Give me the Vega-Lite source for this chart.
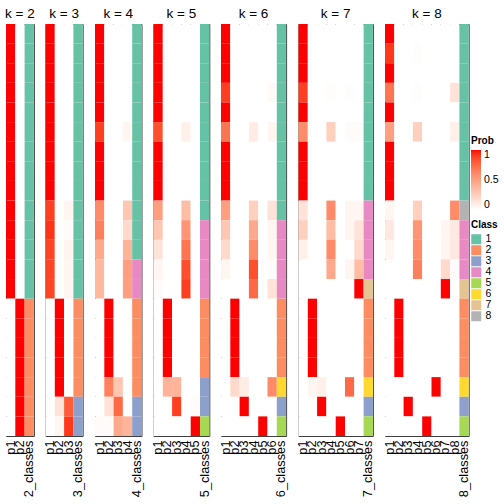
{
"$schema": "https://vega.github.io/schema/vega-lite/v6.json",
"padding": {"left": 3, "top": 6, "right": 7, "bottom": 0},
"background": "white",
"bounds": "flush",
"spacing": 11.5,
"config": {"font": "Liberation Sans", "view": {"stroke": "#404040", "strokeWidth": 1}, "title": {"fontSize": 13.5, "fontWeight": "normal", "color": "black", "offset": 4, "anchor": "middle", "font": "Liberation Sans"},
  "axisX": {"title": null, "labelAngle": 270, "domain": false, "ticks": false, "labelPadding": 4, "labelFontSize": 12.75, "labelColor": "black", "labelFont": "Liberation Sans"}},
"datasets": {"d": [
{"k":2,"s":0,"c":"2_classes","cl":"1","p1":1,"p2":0},
{"k":2,"s":1,"c":"2_classes","cl":"1","p1":1,"p2":0},
{"k":2,"s":2,"c":"2_classes","cl":"1","p1":1,"p2":0},
{"k":2,"s":3,"c":"2_classes","cl":"1","p1":1,"p2":0},
{"k":2,"s":4,"c":"2_classes","cl":"1","p1":1,"p2":0},
{"k":2,"s":5,"c":"2_classes","cl":"1","p1":1,"p2":0},
{"k":2,"s":6,"c":"2_classes","cl":"1","p1":1,"p2":0},
{"k":2,"s":7,"c":"2_classes","cl":"1","p1":1,"p2":0},
{"k":2,"s":8,"c":"2_classes","cl":"1","p1":1,"p2":0},
{"k":2,"s":9,"c":"2_classes","cl":"1","p1":1,"p2":0},
{"k":2,"s":10,"c":"2_classes","cl":"1","p1":1,"p2":0},
{"k":2,"s":11,"c":"2_classes","cl":"1","p1":1,"p2":0},
{"k":2,"s":12,"c":"2_classes","cl":"1","p1":1,"p2":0},
{"k":2,"s":13,"c":"2_classes","cl":"1","p1":1,"p2":0},
{"k":2,"s":14,"c":"2_classes","cl":"2","p1":0,"p2":1},
{"k":2,"s":15,"c":"2_classes","cl":"2","p1":0,"p2":1},
{"k":2,"s":16,"c":"2_classes","cl":"2","p1":0,"p2":1},
{"k":2,"s":17,"c":"2_classes","cl":"2","p1":0,"p2":1},
{"k":2,"s":18,"c":"2_classes","cl":"2","p1":0,"p2":1},
{"k":2,"s":19,"c":"2_classes","cl":"2","p1":0,"p2":1},
{"k":2,"s":20,"c":"2_classes","cl":"2","p1":0,"p2":1},

{"k":3,"s":0,"c":"3_classes","cl":"1","p1":1,"p2":0,"p3":0},
{"k":3,"s":1,"c":"3_classes","cl":"1","p1":1,"p2":0,"p3":0},
{"k":3,"s":2,"c":"3_classes","cl":"1","p1":1,"p2":0,"p3":0},
{"k":3,"s":3,"c":"3_classes","cl":"1","p1":1,"p2":0,"p3":0},
{"k":3,"s":4,"c":"3_classes","cl":"1","p1":1,"p2":0,"p3":0},
{"k":3,"s":5,"c":"3_classes","cl":"1","p1":1,"p2":0,"p3":0},
{"k":3,"s":6,"c":"3_classes","cl":"1","p1":1,"p2":0,"p3":0},
{"k":3,"s":7,"c":"3_classes","cl":"1","p1":1,"p2":0,"p3":0},
{"k":3,"s":8,"c":"3_classes","cl":"1","p1":1,"p2":0,"p3":0},
{"k":3,"s":9,"c":"3_classes","cl":"1","p1":0.9,"p2":0,"p3":0.05},
{"k":3,"s":10,"c":"3_classes","cl":"1","p1":0.93,"p2":0,"p3":0.02},
{"k":3,"s":11,"c":"3_classes","cl":"1","p1":0.88,"p2":0,"p3":0.06},
{"k":3,"s":12,"c":"3_classes","cl":"1","p1":0.88,"p2":0,"p3":0.05},
{"k":3,"s":13,"c":"3_classes","cl":"1","p1":0.88,"p2":0,"p3":0.05},
{"k":3,"s":14,"c":"3_classes","cl":"2","p1":0,"p2":1,"p3":0},
{"k":3,"s":15,"c":"3_classes","cl":"2","p1":0,"p2":1,"p3":0},
{"k":3,"s":16,"c":"3_classes","cl":"2","p1":0,"p2":1,"p3":0},
{"k":3,"s":17,"c":"3_classes","cl":"2","p1":0,"p2":1,"p3":0},
{"k":3,"s":18,"c":"3_classes","cl":"2","p1":0,"p2":1,"p3":0},
{"k":3,"s":19,"c":"3_classes","cl":"3","p1":0,"p2":0.15,"p3":0.8},
{"k":3,"s":20,"c":"3_classes","cl":"3","p1":0,"p2":0.05,"p3":0.92},

{"k":4,"s":0,"c":"4_classes","cl":"1","p1":1,"p2":0,"p3":0,"p4":0},
{"k":4,"s":1,"c":"4_classes","cl":"1","p1":1,"p2":0,"p3":0,"p4":0},
{"k":4,"s":2,"c":"4_classes","cl":"1","p1":1,"p2":0,"p3":0,"p4":0},
{"k":4,"s":3,"c":"4_classes","cl":"1","p1":1,"p2":0,"p3":0,"p4":0},
{"k":4,"s":4,"c":"4_classes","cl":"1","p1":1,"p2":0,"p3":0,"p4":0},
{"k":4,"s":5,"c":"4_classes","cl":"1","p1":0.9,"p2":0,"p3":0,"p4":0.05},
{"k":4,"s":6,"c":"4_classes","cl":"1","p1":1,"p2":0,"p3":0,"p4":0},
{"k":4,"s":7,"c":"4_classes","cl":"1","p1":1,"p2":0,"p3":0,"p4":0},
{"k":4,"s":8,"c":"4_classes","cl":"1","p1":1,"p2":0,"p3":0,"p4":0},
{"k":4,"s":9,"c":"4_classes","cl":"1","p1":0.6,"p2":0,"p3":0,"p4":0.3},
{"k":4,"s":10,"c":"4_classes","cl":"1","p1":0.65,"p2":0,"p3":0,"p4":0.2},
{"k":4,"s":11,"c":"4_classes","cl":"1","p1":0.45,"p2":0,"p3":0,"p4":0.4},
{"k":4,"s":12,"c":"4_classes","cl":"4","p1":0.38,"p2":0,"p3":0,"p4":0.5},
{"k":4,"s":13,"c":"4_classes","cl":"4","p1":0.38,"p2":0,"p3":0,"p4":0.5},
{"k":4,"s":14,"c":"4_classes","cl":"2","p1":0,"p2":1,"p3":0,"p4":0},
{"k":4,"s":15,"c":"4_classes","cl":"2","p1":0,"p2":1,"p3":0,"p4":0},
{"k":4,"s":16,"c":"4_classes","cl":"2","p1":0,"p2":1,"p3":0,"p4":0},
{"k":4,"s":17,"c":"4_classes","cl":"2","p1":0,"p2":1,"p3":0,"p4":0},
{"k":4,"s":18,"c":"4_classes","cl":"2","p1":0,"p2":0.65,"p3":0.3,"p4":0},
{"k":4,"s":19,"c":"4_classes","cl":"3","p1":0,"p2":0.15,"p3":0.75,"p4":0},
{"k":4,"s":20,"c":"4_classes","cl":"3","p1":0.02,"p2":0.02,"p3":0.45,"p4":0.4},

{"k":5,"s":0,"c":"5_classes","cl":"1","p1":1,"p2":0,"p3":0,"p4":0,"p5":0},
{"k":5,"s":1,"c":"5_classes","cl":"1","p1":1,"p2":0,"p3":0,"p4":0,"p5":0},
{"k":5,"s":2,"c":"5_classes","cl":"1","p1":1,"p2":0,"p3":0,"p4":0,"p5":0},
{"k":5,"s":3,"c":"5_classes","cl":"1","p1":1,"p2":0,"p3":0,"p4":0,"p5":0},
{"k":5,"s":4,"c":"5_classes","cl":"1","p1":1,"p2":0,"p3":0,"p4":0,"p5":0},
{"k":5,"s":5,"c":"5_classes","cl":"1","p1":0.85,"p2":0,"p3":0,"p4":0.08,"p5":0},
{"k":5,"s":6,"c":"5_classes","cl":"1","p1":1,"p2":0,"p3":0,"p4":0,"p5":0},
{"k":5,"s":7,"c":"5_classes","cl":"1","p1":1,"p2":0,"p3":0,"p4":0,"p5":0},
{"k":5,"s":8,"c":"5_classes","cl":"1","p1":1,"p2":0,"p3":0,"p4":0,"p5":0},
{"k":5,"s":9,"c":"5_classes","cl":"1","p1":0.5,"p2":0,"p3":0,"p4":0.35,"p5":0},
{"k":5,"s":10,"c":"5_classes","cl":"4","p1":0.3,"p2":0,"p3":0,"p4":0.55,"p5":0},
{"k":5,"s":11,"c":"5_classes","cl":"4","p1":0.15,"p2":0,"p3":0,"p4":0.7,"p5":0},
{"k":5,"s":12,"c":"5_classes","cl":"4","p1":0.05,"p2":0,"p3":0,"p4":0.85,"p5":0},
{"k":5,"s":13,"c":"5_classes","cl":"4","p1":0.02,"p2":0,"p3":0,"p4":0.9,"p5":0},
{"k":5,"s":14,"c":"5_classes","cl":"2","p1":0,"p2":1,"p3":0,"p4":0,"p5":0},
{"k":5,"s":15,"c":"5_classes","cl":"2","p1":0,"p2":1,"p3":0,"p4":0,"p5":0},
{"k":5,"s":16,"c":"5_classes","cl":"2","p1":0,"p2":1,"p3":0,"p4":0,"p5":0},
{"k":5,"s":17,"c":"5_classes","cl":"2","p1":0,"p2":1,"p3":0,"p4":0,"p5":0},
{"k":5,"s":18,"c":"5_classes","cl":"3","p1":0,"p2":0.4,"p3":0.4,"p4":0,"p5":0},
{"k":5,"s":19,"c":"5_classes","cl":"3","p1":0,"p2":0,"p3":0.9,"p4":0,"p5":0.02},
{"k":5,"s":20,"c":"5_classes","cl":"5","p1":0,"p2":0,"p3":0,"p4":0,"p5":1},

{"k":6,"s":0,"c":"6_classes","cl":"1","p1":1,"p2":0,"p3":0,"p4":0,"p5":0,"p6":0},
{"k":6,"s":1,"c":"6_classes","cl":"1","p1":1,"p2":0,"p3":0,"p4":0,"p5":0,"p6":0},
{"k":6,"s":2,"c":"6_classes","cl":"1","p1":1,"p2":0,"p3":0,"p4":0,"p5":0,"p6":0},
{"k":6,"s":3,"c":"6_classes","cl":"1","p1":0.9,"p2":0,"p3":0,"p4":0,"p5":0,"p6":0.03},
{"k":6,"s":4,"c":"6_classes","cl":"1","p1":1,"p2":0,"p3":0,"p4":0,"p5":0,"p6":0},
{"k":6,"s":5,"c":"6_classes","cl":"1","p1":0.7,"p2":0,"p3":0,"p4":0.1,"p5":0,"p6":0.05},
{"k":6,"s":6,"c":"6_classes","cl":"1","p1":1,"p2":0,"p3":0,"p4":0,"p5":0,"p6":0},
{"k":6,"s":7,"c":"6_classes","cl":"1","p1":1,"p2":0,"p3":0,"p4":0,"p5":0,"p6":0},
{"k":6,"s":8,"c":"6_classes","cl":"1","p1":1,"p2":0,"p3":0,"p4":0,"p5":0,"p6":0},
{"k":6,"s":9,"c":"6_classes","cl":"1","p1":0.5,"p2":0,"p3":0,"p4":0.25,"p5":0,"p6":0.15},
{"k":6,"s":10,"c":"6_classes","cl":"4","p1":0.3,"p2":0,"p3":0,"p4":0.45,"p5":0,"p6":0.05},
{"k":6,"s":11,"c":"6_classes","cl":"4","p1":0.2,"p2":0,"p3":0,"p4":0.6,"p5":0,"p6":0.05},
{"k":6,"s":12,"c":"6_classes","cl":"4","p1":0.05,"p2":0,"p3":0,"p4":0.85,"p5":0,"p6":0.02},
{"k":6,"s":13,"c":"6_classes","cl":"4","p1":0,"p2":0,"p3":0,"p4":0.75,"p5":0,"p6":0.15},
{"k":6,"s":14,"c":"6_classes","cl":"2","p1":0,"p2":1,"p3":0,"p4":0,"p5":0,"p6":0},
{"k":6,"s":15,"c":"6_classes","cl":"2","p1":0,"p2":1,"p3":0,"p4":0,"p5":0,"p6":0},
{"k":6,"s":16,"c":"6_classes","cl":"2","p1":0,"p2":1,"p3":0,"p4":0,"p5":0,"p6":0},
{"k":6,"s":17,"c":"6_classes","cl":"2","p1":0,"p2":1,"p3":0,"p4":0,"p5":0,"p6":0},
{"k":6,"s":18,"c":"6_classes","cl":"6","p1":0,"p2":0.2,"p3":0.1,"p4":0,"p5":0,"p6":0.6},
{"k":6,"s":19,"c":"6_classes","cl":"3","p1":0,"p2":0,"p3":1,"p4":0,"p5":0,"p6":0},
{"k":6,"s":20,"c":"6_classes","cl":"5","p1":0,"p2":0,"p3":0,"p4":0,"p5":1,"p6":0},

{"k":7,"s":0,"c":"7_classes","cl":"1","p1":1,"p2":0,"p3":0,"p4":0,"p5":0,"p6":0,"p7":0},
{"k":7,"s":1,"c":"7_classes","cl":"1","p1":1,"p2":0,"p3":0,"p4":0,"p5":0,"p6":0,"p7":0},
{"k":7,"s":2,"c":"7_classes","cl":"1","p1":1,"p2":0,"p3":0,"p4":0,"p5":0,"p6":0,"p7":0},
{"k":7,"s":3,"c":"7_classes","cl":"1","p1":0.9,"p2":0,"p3":0,"p4":0.01,"p5":0,"p6":0.01,"p7":0},
{"k":7,"s":4,"c":"7_classes","cl":"1","p1":1,"p2":0,"p3":0,"p4":0,"p5":0,"p6":0,"p7":0},
{"k":7,"s":5,"c":"7_classes","cl":"1","p1":0.6,"p2":0,"p3":0,"p4":0.25,"p5":0,"p6":0.02,"p7":0.02},
{"k":7,"s":6,"c":"7_classes","cl":"1","p1":1,"p2":0,"p3":0,"p4":0,"p5":0,"p6":0,"p7":0},
{"k":7,"s":7,"c":"7_classes","cl":"1","p1":1,"p2":0,"p3":0,"p4":0,"p5":0,"p6":0,"p7":0},
{"k":7,"s":8,"c":"7_classes","cl":"1","p1":1,"p2":0,"p3":0,"p4":0,"p5":0,"p6":0,"p7":0},
{"k":7,"s":9,"c":"7_classes","cl":"4","p1":0.15,"p2":0,"p3":0,"p4":0.6,"p5":0,"p6":0.05,"p7":0.05},
{"k":7,"s":10,"c":"7_classes","cl":"4","p1":0.25,"p2":0,"p3":0,"p4":0.35,"p5":0,"p6":0.05,"p7":0.15},
{"k":7,"s":11,"c":"7_classes","cl":"4","p1":0.08,"p2":0,"p3":0,"p4":0.6,"p5":0,"p6":0,"p7":0.2},
{"k":7,"s":12,"c":"7_classes","cl":"4","p1":0,"p2":0,"p3":0,"p4":0.45,"p5":0,"p6":0.05,"p7":0.35},
{"k":7,"s":13,"c":"7_classes","cl":"7","p1":0,"p2":0,"p3":0,"p4":0,"p5":0,"p6":0,"p7":1},
{"k":7,"s":14,"c":"7_classes","cl":"2","p1":0,"p2":1,"p3":0,"p4":0,"p5":0,"p6":0,"p7":0},
{"k":7,"s":15,"c":"7_classes","cl":"2","p1":0,"p2":1,"p3":0,"p4":0,"p5":0,"p6":0,"p7":0},
{"k":7,"s":16,"c":"7_classes","cl":"2","p1":0,"p2":1,"p3":0,"p4":0,"p5":0,"p6":0,"p7":0},
{"k":7,"s":17,"c":"7_classes","cl":"2","p1":0,"p2":1,"p3":0,"p4":0,"p5":0,"p6":0,"p7":0},
{"k":7,"s":18,"c":"7_classes","cl":"6","p1":0,"p2":0.05,"p3":0.08,"p4":0,"p5":0,"p6":0.75,"p7":0},
{"k":7,"s":19,"c":"7_classes","cl":"3","p1":0,"p2":0,"p3":1,"p4":0,"p5":0,"p6":0,"p7":0},
{"k":7,"s":20,"c":"7_classes","cl":"5","p1":0,"p2":0,"p3":0,"p4":0,"p5":1,"p6":0,"p7":0},

{"k":8,"s":0,"c":"8_classes","cl":"1","p1":1,"p2":0,"p3":0,"p4":0,"p5":0,"p6":0,"p7":0,"p8":0},
{"k":8,"s":1,"c":"8_classes","cl":"1","p1":0.92,"p2":0,"p3":0,"p4":0.01,"p5":0,"p6":0,"p7":0,"p8":0},
{"k":8,"s":2,"c":"8_classes","cl":"1","p1":1,"p2":0,"p3":0,"p4":0,"p5":0,"p6":0,"p7":0,"p8":0},
{"k":8,"s":3,"c":"8_classes","cl":"1","p1":0.7,"p2":0,"p3":0,"p4":0.01,"p5":0,"p6":0,"p7":0,"p8":0.15},
{"k":8,"s":4,"c":"8_classes","cl":"1","p1":1,"p2":0,"p3":0,"p4":0,"p5":0,"p6":0,"p7":0,"p8":0},
{"k":8,"s":5,"c":"8_classes","cl":"1","p1":0.5,"p2":0,"p3":0,"p4":0.25,"p5":0,"p6":0,"p7":0,"p8":0.08},
{"k":8,"s":6,"c":"8_classes","cl":"1","p1":1,"p2":0,"p3":0,"p4":0,"p5":0,"p6":0,"p7":0,"p8":0},
{"k":8,"s":7,"c":"8_classes","cl":"1","p1":1,"p2":0,"p3":0,"p4":0,"p5":0,"p6":0,"p7":0,"p8":0},
{"k":8,"s":8,"c":"8_classes","cl":"1","p1":1,"p2":0,"p3":0,"p4":0,"p5":0,"p6":0,"p7":0,"p8":0},
{"k":8,"s":9,"c":"8_classes","cl":"8","p1":0.05,"p2":0,"p3":0,"p4":0.25,"p5":0,"p6":0,"p7":0,"p8":0.6},
{"k":8,"s":10,"c":"8_classes","cl":"4","p1":0.12,"p2":0,"p3":0,"p4":0.55,"p5":0,"p6":0,"p7":0.05,"p8":0.12},
{"k":8,"s":11,"c":"8_classes","cl":"4","p1":0.05,"p2":0,"p3":0,"p4":0.6,"p5":0,"p6":0,"p7":0.05,"p8":0.12},
{"k":8,"s":12,"c":"8_classes","cl":"4","p1":0,"p2":0,"p3":0,"p4":0.65,"p5":0,"p6":0,"p7":0.2,"p8":0.02},
{"k":8,"s":13,"c":"8_classes","cl":"7","p1":0,"p2":0,"p3":0,"p4":0,"p5":0,"p6":0,"p7":1,"p8":0},
{"k":8,"s":14,"c":"8_classes","cl":"2","p1":0,"p2":1,"p3":0,"p4":0,"p5":0,"p6":0,"p7":0,"p8":0},
{"k":8,"s":15,"c":"8_classes","cl":"2","p1":0,"p2":1,"p3":0,"p4":0,"p5":0,"p6":0,"p7":0,"p8":0},
{"k":8,"s":16,"c":"8_classes","cl":"2","p1":0,"p2":1,"p3":0,"p4":0,"p5":0,"p6":0,"p7":0,"p8":0},
{"k":8,"s":17,"c":"8_classes","cl":"2","p1":0,"p2":1,"p3":0,"p4":0,"p5":0,"p6":0,"p7":0,"p8":0},
{"k":8,"s":18,"c":"8_classes","cl":"6","p1":0,"p2":0,"p3":0,"p4":0,"p5":0,"p6":1,"p7":0,"p8":0},
{"k":8,"s":19,"c":"8_classes","cl":"3","p1":0,"p2":0,"p3":1,"p4":0,"p5":0,"p6":0,"p7":0,"p8":0},
{"k":8,"s":20,"c":"8_classes","cl":"5","p1":0,"p2":0,"p3":0,"p4":0,"p5":1,"p6":0,"p7":0,"p8":0}
]},
"data": {"name": "d"},
"hconcat": [
 {"title": "k = 2", "transform": [{"filter": "datum.k == 2"}], "width": 27.9, "height": 412,
  "layer": [
   {"transform": [{"fold": ["p1","p2"], "as": ["c","p"]}], "mark": "rect",
    "encoding": {"x": {"field": "c", "type": "ordinal", "sort": ["p1","p2","2_classes"]}, "y": {"field": "s", "type": "ordinal", "axis": null},
     "color": {"field": "p", "type": "quantitative", "scale": {"domain": [0, 1], "range": ["#ffffff", "#ff0000"], "interpolate": "lab"},
       "legend": {"title": "Prob", "orient": "none", "legendX": 465, "legendY": 112, "direction": "vertical", "gradientLength": 60, "gradientThickness": 10, "values": [0, 0.5, 1], "format": "~g", "titleFontSize": 10, "titleFontWeight": "bold", "titleColor": "black", "labelFontSize": 10.5, "labelColor": "black", "labelOffset": 3, "titlePadding": 4, "gradientStrokeWidth": 0}}}},
   {"mark": "rect",
    "encoding": {"x": {"field": "c", "type": "ordinal", "sort": ["p1","p2","2_classes"]}, "y": {"field": "s", "type": "ordinal", "axis": null},
     "fill": {"field": "cl", "type": "nominal", "scale": {"domain": ["1","2","3","4","5","6","7","8"], "range": ["#66c2a5","#fc8d62","#8da0cb","#e78ac3","#a6d854","#ffd92f","#e5c494","#b3b3b3"]},
       "legend": {"title": "Class", "orient": "none", "legendX": 465, "legendY": 196, "symbolType": "square", "symbolSize": 100, "symbolStrokeWidth": 0, "symbolOpacity": 1, "rowPadding": 0, "titleFontSize": 10, "titleFontWeight": "bold", "titleColor": "black", "labelFontSize": 10.5, "labelColor": "black", "labelOffset": 4, "titlePadding": 4}}}}
  ]},
 {"title": "k = 3", "transform": [{"filter": "datum.k == 3"}], "width": 37.2, "height": 412,
  "layer": [
   {"transform": [{"fold": ["p1","p2","p3"], "as": ["c","p"]}], "mark": "rect",
    "encoding": {"x": {"field": "c", "type": "ordinal", "sort": ["p1","p2","p3","3_classes"]}, "y": {"field": "s", "type": "ordinal", "axis": null}, "color": {"field": "p", "type": "quantitative"}}},
   {"mark": "rect",
    "encoding": {"x": {"field": "c", "type": "ordinal", "sort": ["p1","p2","p3","3_classes"]}, "y": {"field": "s", "type": "ordinal", "axis": null}, "fill": {"field": "cl", "type": "nominal"}}}
  ]},
 {"title": "k = 4", "transform": [{"filter": "datum.k == 4"}], "width": 46.5, "height": 412,
  "layer": [
   {"transform": [{"fold": ["p1","p2","p3","p4"], "as": ["c","p"]}], "mark": "rect",
    "encoding": {"x": {"field": "c", "type": "ordinal", "sort": ["p1","p2","p3","p4","4_classes"]}, "y": {"field": "s", "type": "ordinal", "axis": null}, "color": {"field": "p", "type": "quantitative"}}},
   {"mark": "rect",
    "encoding": {"x": {"field": "c", "type": "ordinal", "sort": ["p1","p2","p3","p4","4_classes"]}, "y": {"field": "s", "type": "ordinal", "axis": null}, "fill": {"field": "cl", "type": "nominal"}}}
  ]},
 {"title": "k = 5", "transform": [{"filter": "datum.k == 5"}], "width": 55.8, "height": 412,
  "layer": [
   {"transform": [{"fold": ["p1","p2","p3","p4","p5"], "as": ["c","p"]}], "mark": "rect",
    "encoding": {"x": {"field": "c", "type": "ordinal", "sort": ["p1","p2","p3","p4","p5","5_classes"]}, "y": {"field": "s", "type": "ordinal", "axis": null}, "color": {"field": "p", "type": "quantitative"}}},
   {"mark": "rect",
    "encoding": {"x": {"field": "c", "type": "ordinal", "sort": ["p1","p2","p3","p4","p5","5_classes"]}, "y": {"field": "s", "type": "ordinal", "axis": null}, "fill": {"field": "cl", "type": "nominal"}}}
  ]},
 {"title": "k = 6", "transform": [{"filter": "datum.k == 6"}], "width": 65.1, "height": 412,
  "layer": [
   {"transform": [{"fold": ["p1","p2","p3","p4","p5","p6"], "as": ["c","p"]}], "mark": "rect",
    "encoding": {"x": {"field": "c", "type": "ordinal", "sort": ["p1","p2","p3","p4","p5","p6","6_classes"]}, "y": {"field": "s", "type": "ordinal", "axis": null}, "color": {"field": "p", "type": "quantitative"}}},
   {"mark": "rect",
    "encoding": {"x": {"field": "c", "type": "ordinal", "sort": ["p1","p2","p3","p4","p5","p6","6_classes"]}, "y": {"field": "s", "type": "ordinal", "axis": null}, "fill": {"field": "cl", "type": "nominal"}}}
  ]},
 {"title": "k = 7", "transform": [{"filter": "datum.k == 7"}], "width": 74.4, "height": 412,
  "layer": [
   {"transform": [{"fold": ["p1","p2","p3","p4","p5","p6","p7"], "as": ["c","p"]}], "mark": "rect",
    "encoding": {"x": {"field": "c", "type": "ordinal", "sort": ["p1","p2","p3","p4","p5","p6","p7","7_classes"]}, "y": {"field": "s", "type": "ordinal", "axis": null}, "color": {"field": "p", "type": "quantitative"}}},
   {"mark": "rect",
    "encoding": {"x": {"field": "c", "type": "ordinal", "sort": ["p1","p2","p3","p4","p5","p6","p7","7_classes"]}, "y": {"field": "s", "type": "ordinal", "axis": null}, "fill": {"field": "cl", "type": "nominal"}}}
  ]},
 {"title": "k = 8", "transform": [{"filter": "datum.k == 8"}], "width": 83.7, "height": 412,
  "layer": [
   {"transform": [{"fold": ["p1","p2","p3","p4","p5","p6","p7","p8"], "as": ["c","p"]}], "mark": "rect",
    "encoding": {"x": {"field": "c", "type": "ordinal", "sort": ["p1","p2","p3","p4","p5","p6","p7","p8","8_classes"]}, "y": {"field": "s", "type": "ordinal", "axis": null}, "color": {"field": "p", "type": "quantitative"}}},
   {"mark": "rect",
    "encoding": {"x": {"field": "c", "type": "ordinal", "sort": ["p1","p2","p3","p4","p5","p6","p7","p8","8_classes"]}, "y": {"field": "s", "type": "ordinal", "axis": null}, "fill": {"field": "cl", "type": "nominal"}}}
  ]}
],
"resolve": {"scale": {"color": "shared", "fill": "shared", "x": "independent"}, "legend": {"color": "shared", "fill": "shared"}}
}
